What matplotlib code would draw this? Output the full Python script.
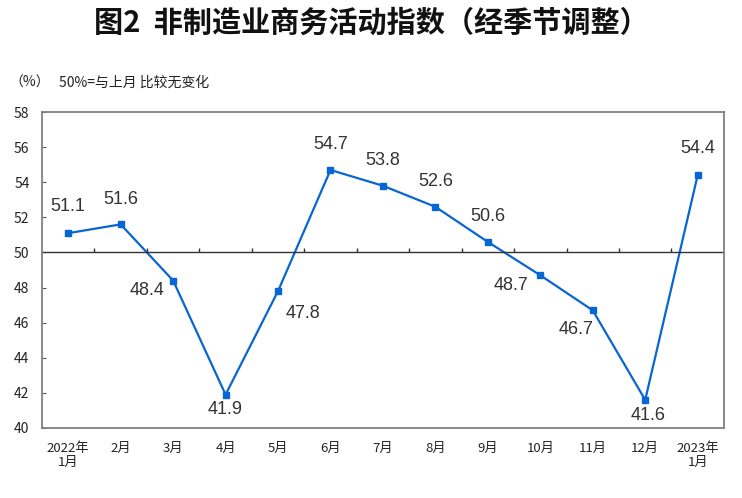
import numpy as np
import matplotlib
matplotlib.use('Agg')
import matplotlib.pyplot as plt

plt.rcParams['font.family'] = ['Noto Sans CJK SC', 'DejaVu Sans']

#=================== 数据 ===================
months = ['2022年\n1月', '2月', '3月', '4月', '5月', '6月', '7月', '8月',
          '9月', '10月', '11月', '12月', '2023年\n1月']
index_vals = [51.1, 51.6, 48.4, 41.9, 47.8, 54.7, 53.8, 52.6, 50.6, 48.7, 46.7, 41.6, 54.4]
yticks = [40, 42, 44, 46, 48, 50, 52, 54, 56, 58]

# label offsets in points (dx, dy)
offsets = [(0, 19), (0, 18), (-19, -7), (0, -11), (18, -16), (0, 18), (0, 18),
           (0, 18), (0, 18), (-21, -7), (-12, -14), (2, -11), (0, 19)]

blue = '#0866d2'

fig = plt.figure(figsize=(7.42, 4.98), dpi=100)
ax = fig.add_axes([0.0566, 0.1406, 0.919, 0.6344])

x = np.arange(len(index_vals))
ax.plot(x, index_vals, color=blue, linewidth=1.6, marker='s', markersize=5)

for xi, v, (dx, dy) in zip(x, index_vals, offsets):
    ax.annotate('%.1f' % v, xy=(xi, v), xytext=(dx, dy), textcoords='offset points',
                ha='center', va='center', fontsize=13, color='#333333',
                family=['Liberation Sans', 'DejaVu Sans'])

# 50% line with small tick marks between months
ax.axhline(50, color='#333333', linewidth=1.0)
ax.vlines(np.arange(0.5, len(index_vals) - 1, 1), 50, 50.25, color='#333333', linewidth=1.0)

ax.set_xlim(-0.5, len(index_vals) - 0.5)
ax.set_ylim(40, 58)
ax.set_yticks(yticks)
ax.set_yticklabels([str(t) for t in yticks], fontsize=10, color='#222222')
ax.tick_params(axis='y', direction='in', length=3, color='#555555', pad=9)
ax.set_xticks(x)
ax.set_xticklabels(months, fontsize=9.5, color='#222222', linespacing=1.15)
ax.tick_params(axis='x', length=0, pad=10)

for s in ax.spines.values():
    s.set_color('#808080')
    s.set_linewidth(1.3)

fig.text(0.5, 0.955, '图2  非制造业商务活动指数（经季节调整）', ha='center', va='center',
         fontsize=21, fontweight='bold', color='#111111')
fig.text(0.012, 0.833, '（%）', ha='left', va='center', fontsize=10, color='#222222')
fig.text(0.08, 0.833, '50%=与上月 比较无变化', ha='left', va='center', fontsize=10, color='#222222')

plt.savefig('out.png', dpi=100)
